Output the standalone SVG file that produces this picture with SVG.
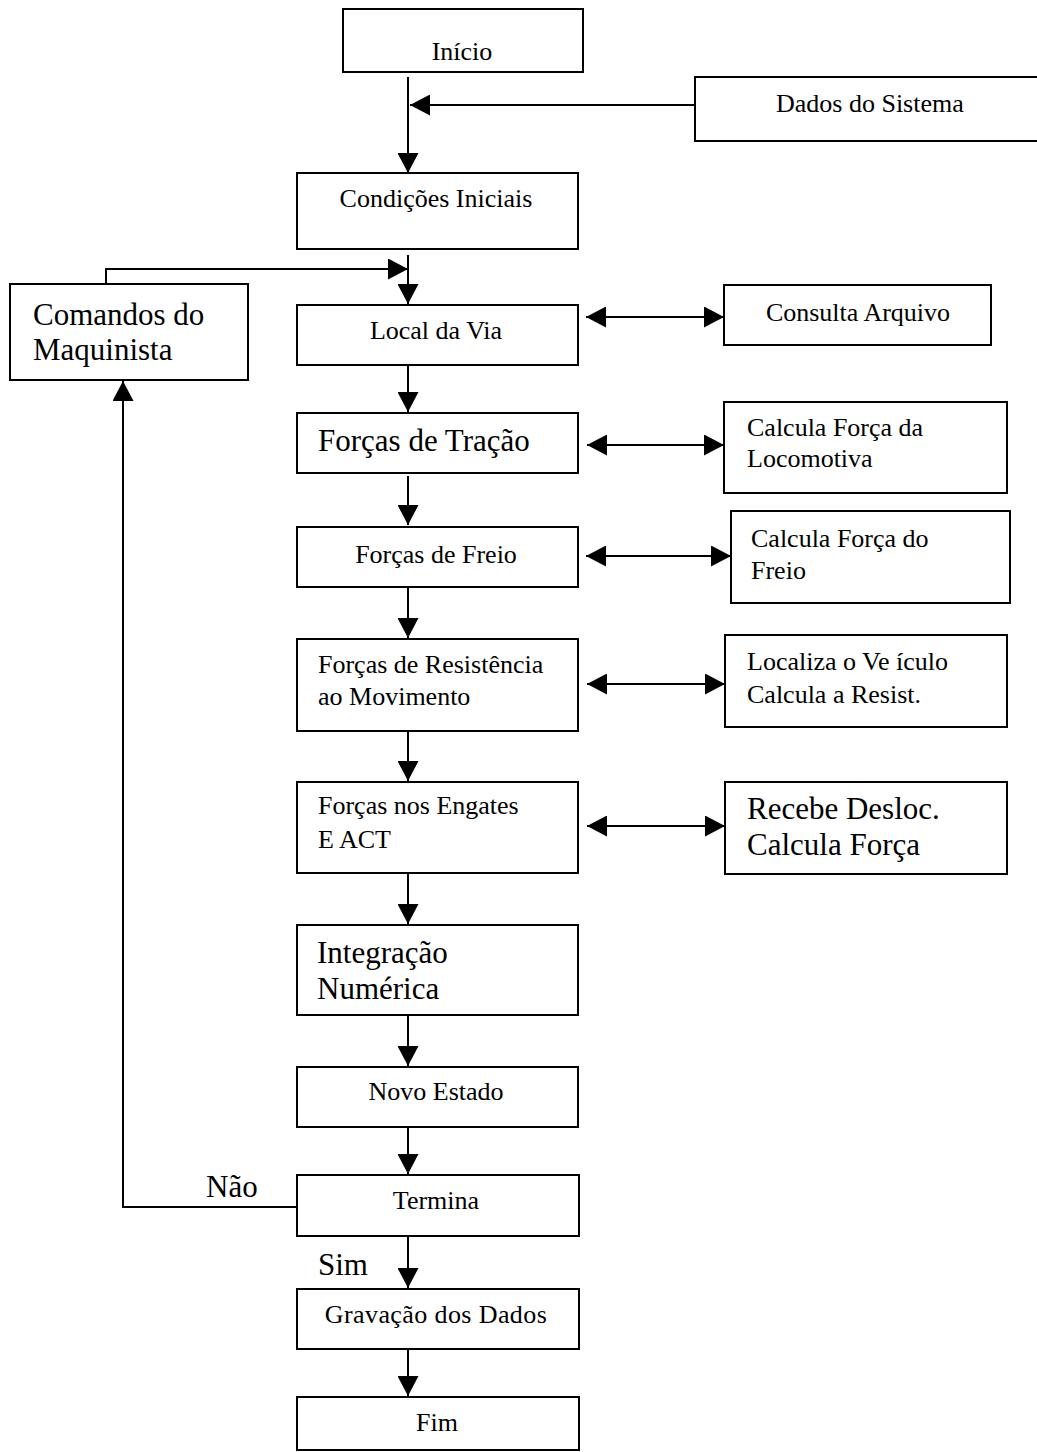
<svg xmlns="http://www.w3.org/2000/svg" width="1037" height="1452" viewBox="0 0 1037 1452">
<style>
  .box { fill: #fff; stroke: #000; stroke-width: 2; }
  .t { font-family: "Liberation Serif", "Times New Roman", serif; font-size: 26px; fill: #000; }
  .big { font-size: 31px; }
  .c { text-anchor: middle; }
  .ln { fill: none; stroke: #000; stroke-width: 2; }
</style>
<defs>
  <marker id="ah" viewBox="0 0 20 21" refX="20" refY="10.5" markerWidth="20" markerHeight="21" markerUnits="userSpaceOnUse" orient="auto-start-reverse">
    <path d="M0,0 L20,10.5 L0,21 Z" fill="#000"/>
  </marker>
</defs>
<rect width="1037" height="1452" fill="#fff"/>

<g id="connectors">
  <line class="ln" x1="408" y1="77" x2="408" y2="173" marker-end="url(#ah)"/>
  <line class="ln" x1="695" y1="105" x2="410" y2="105" marker-end="url(#ah)"/>
  <line class="ln" x1="408" y1="255" x2="408" y2="304" marker-end="url(#ah)"/>
  <polyline class="ln" points="106,284 106,269 408,269" marker-end="url(#ah)"/>
  <line class="ln" x1="408" y1="365" x2="408" y2="412" marker-end="url(#ah)"/>
  <line class="ln" x1="408" y1="476" x2="408" y2="525" marker-end="url(#ah)"/>
  <line class="ln" x1="408" y1="587" x2="408" y2="638" marker-end="url(#ah)"/>
  <line class="ln" x1="408" y1="731" x2="408" y2="781" marker-end="url(#ah)"/>
  <line class="ln" x1="408" y1="873" x2="408" y2="924" marker-end="url(#ah)"/>
  <line class="ln" x1="408" y1="1015" x2="408" y2="1066" marker-end="url(#ah)"/>
  <line class="ln" x1="408" y1="1127" x2="408" y2="1174" marker-end="url(#ah)"/>
  <line class="ln" x1="408" y1="1237" x2="408" y2="1288" marker-end="url(#ah)"/>
  <line class="ln" x1="408" y1="1349" x2="408" y2="1396" marker-end="url(#ah)"/>
  <polyline class="ln" points="296,1207 123,1207 123,381" marker-end="url(#ah)"/>
  <line class="ln" x1="586" y1="317" x2="724" y2="317" marker-start="url(#ah)" marker-end="url(#ah)"/>
  <line class="ln" x1="587" y1="445" x2="724" y2="445" marker-start="url(#ah)" marker-end="url(#ah)"/>
  <line class="ln" x1="586" y1="556" x2="731" y2="556" marker-start="url(#ah)" marker-end="url(#ah)"/>
  <line class="ln" x1="587" y1="684" x2="725" y2="684" marker-start="url(#ah)" marker-end="url(#ah)"/>
  <line class="ln" x1="587" y1="826" x2="725" y2="826" marker-start="url(#ah)" marker-end="url(#ah)"/>
  <text class="t big" x="206" y="1197">Não</text>
  <text class="t big" x="318" y="1275">Sim</text>
</g>

<g id="inicio"><rect class="box" x="343" y="9" width="240" height="63"/><text class="t c" x="462" y="60">Início</text></g>
<g id="dados"><rect class="box" x="695" y="77" width="350" height="64"/><text class="t" x="776" y="112">Dados do Sistema</text></g>
<g id="condicoes"><rect class="box" x="297" y="173" width="281" height="76"/><text class="t c" x="436" y="207">Condições Iniciais</text></g>
<g id="comandos"><rect class="box" x="10" y="284" width="238" height="96"/><text class="t big" x="33" y="325">Comandos do</text><text class="t big" x="33" y="360">Maquinista</text></g>
<g id="local"><rect class="box" x="297" y="305" width="281" height="60"/><text class="t c" x="436" y="339">Local da Via</text></g>
<g id="consulta"><rect class="box" x="724" y="285" width="267" height="60"/><text class="t c" x="858" y="321">Consulta Arquivo</text></g>
<g id="tracao"><rect class="box" x="297" y="413" width="281" height="60"/><text class="t big" x="318" y="451">Forças de Tração</text></g>
<g id="locomotiva"><rect class="box" x="724" y="402" width="283" height="91"/><text class="t" x="747" y="436">Calcula Força da</text><text class="t" x="747" y="467">Locomotiva</text></g>
<g id="freio"><rect class="box" x="297" y="527" width="281" height="60"/><text class="t c" x="436" y="563">Forças de Freio</text></g>
<g id="calcfreio"><rect class="box" x="731" y="511" width="279" height="92"/><text class="t" x="751" y="547">Calcula Força do</text><text class="t" x="751" y="579">Freio</text></g>
<g id="resistencia"><rect class="box" x="297" y="639" width="281" height="92"/><text class="t" x="318" y="673">Forças de Resistência</text><text class="t" x="318" y="705">ao Movimento</text></g>
<g id="localiza"><rect class="box" x="725" y="635" width="282" height="92"/><text class="t" x="747" y="670">Localiza o Ve ículo</text><text class="t" x="747" y="703">Calcula a Resist.</text></g>
<g id="engates"><rect class="box" x="297" y="782" width="281" height="91"/><text class="t" x="318" y="814">Forças nos Engates</text><text class="t" x="318" y="848">E ACT</text></g>
<g id="recebe"><rect class="box" x="725" y="782" width="282" height="92"/><text class="t big" x="747" y="819">Recebe Desloc.</text><text class="t big" x="747" y="855">Calcula Força</text></g>
<g id="integracao"><rect class="box" x="297" y="925" width="281" height="90"/><text class="t big" x="317" y="963">Integração</text><text class="t big" x="317" y="999">Numérica</text></g>
<g id="novo"><rect class="box" x="297" y="1067" width="281" height="60"/><text class="t c" x="436" y="1100">Novo Estado</text></g>
<g id="termina"><rect class="box" x="297" y="1175" width="282" height="61"/><text class="t c" x="436" y="1209">Termina</text></g>
<g id="gravacao"><rect class="box" x="297" y="1289" width="282" height="60"/><text class="t c" x="436" y="1323" letter-spacing="0.4">Gravação dos Dados</text></g>
<g id="fim"><rect class="box" x="297" y="1397" width="282" height="53"/><text class="t c" x="437" y="1431">Fim</text></g>
</svg>
